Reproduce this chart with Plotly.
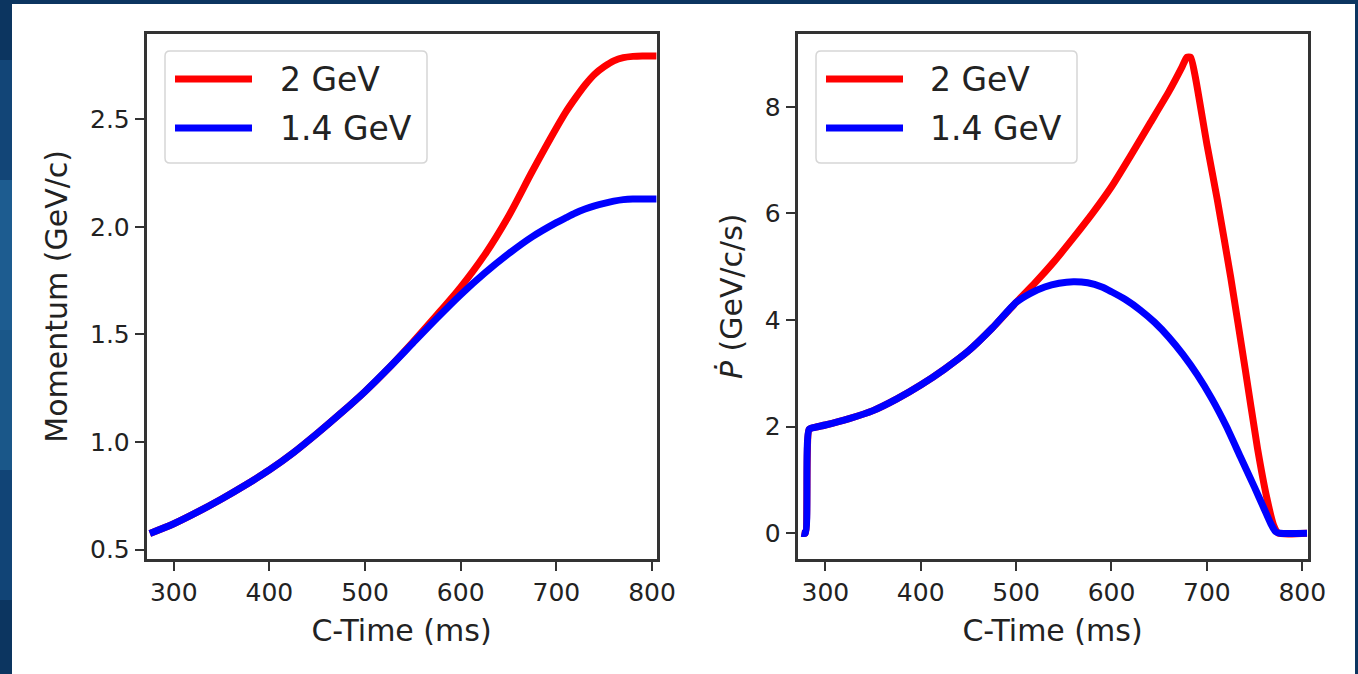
import plotly.graph_objects as go

# ---- data -------------------------------------------------------------
# Momentum vs cycle time
t_mom = [275, 300, 325, 350, 375, 400, 425, 450, 475, 500, 525, 550, 575,
         600, 625, 650, 675, 700, 710, 720, 730, 740, 750, 760, 770, 780, 790, 805]
mom_2gev = [0.575, 0.62, 0.675, 0.735, 0.80, 0.87, 0.95, 1.04, 1.135, 1.235,
            1.345, 1.465, 1.59, 1.72, 1.87, 2.05, 2.26, 2.46, 2.535, 2.60,
            2.66, 2.71, 2.745, 2.772, 2.787, 2.793, 2.795, 2.795]
mom_14gev = [0.575, 0.62, 0.675, 0.735, 0.80, 0.87, 0.95, 1.04, 1.135, 1.235,
             1.345, 1.46, 1.575, 1.685, 1.785, 1.875, 1.955, 2.02, 2.043,
             2.065, 2.083, 2.098, 2.11, 2.12, 2.127, 2.13, 2.13, 2.13]

# Rate of change of momentum vs cycle time
t_pdot_14 = [275, 279, 283, 290, 300, 325, 350, 375, 400, 425, 450, 475, 500,
             515, 530, 545, 560, 575, 590, 600, 615, 630, 645, 660, 675, 690,
             705, 720, 735, 750, 760, 767, 772, 777, 805]
pdot_14gev = [0.0, 0.0, 1.95, 1.99, 2.03, 2.15, 2.30, 2.52, 2.78, 3.08, 3.42,
              3.85, 4.33, 4.50, 4.62, 4.69, 4.72, 4.70, 4.62, 4.53, 4.38,
              4.19, 3.96, 3.68, 3.35, 2.97, 2.53, 2.02, 1.44, 0.86, 0.46,
              0.18, 0.03, 0.0, 0.0]

t_pdot_2 = [275, 279, 283, 290, 300, 325, 350, 375, 400, 425, 450, 475, 500,
            520, 540, 560, 580, 600, 620, 640, 660, 674, 679, 683, 688, 700,
            711, 725, 740, 753, 763, 770, 775, 805]
pdot_2gev = [0.0, 0.0, 1.95, 1.99, 2.03, 2.15, 2.30, 2.52, 2.78, 3.08, 3.42,
             3.85, 4.33, 4.70, 5.10, 5.54, 6.00, 6.50, 7.08, 7.68, 8.28, 8.75,
             8.93, 8.93, 8.55, 7.30, 6.25, 4.80, 3.10, 1.60, 0.65, 0.15, 0.0,
             0.0]

x_ticks = [300, 400, 500, 600, 700, 800]
mom_ticks = [0.5, 1.0, 1.5, 2.0, 2.5]
pdot_ticks = [0, 2, 4, 6, 8]
series_names = ["2 GeV", "1.4 GeV"]
series_colors = ["#ff0000", "#0000ff"]

# ---- figure geometry (pixels) ----------------------------------------
W, H = 1358, 674
FONT = "DejaVu Sans"
TXT = "#222222"
FRAME = "#333333"


def px(x):
    return x / W


def py(y):
    return 1 - y / H


fig = go.Figure()

# momentum panel
fig.add_trace(go.Scatter(x=t_mom, y=mom_2gev, mode="lines", name=series_names[0],
                         line=dict(color=series_colors[0], width=7, shape="spline", smoothing=0.8),
                         xaxis="x", yaxis="y", showlegend=False))
fig.add_trace(go.Scatter(x=t_mom, y=mom_14gev, mode="lines", name=series_names[1],
                         line=dict(color=series_colors[1], width=7, shape="spline", smoothing=0.8),
                         xaxis="x", yaxis="y", showlegend=False))
# momentum-rate panel
fig.add_trace(go.Scatter(x=t_pdot_2, y=pdot_2gev, mode="lines", name=series_names[0],
                         line=dict(color=series_colors[0], width=7, shape="spline", smoothing=0.5),
                         xaxis="x2", yaxis="y2", showlegend=False))
fig.add_trace(go.Scatter(x=t_pdot_14, y=pdot_14gev, mode="lines", name=series_names[1],
                         line=dict(color=series_colors[1], width=7, shape="spline", smoothing=0.6),
                         xaxis="x2", yaxis="y2", showlegend=False))

axis_common = dict(
    showline=True, mirror=True, linecolor=FRAME, linewidth=2.5,
    ticks="outside", ticklen=9, tickwidth=2, tickcolor=FRAME,
    showgrid=False, zeroline=False,
    tickfont=dict(family=FONT, size=25, color=TXT),
    automargin=False,
)

y_dom = [py(558.8), py(33.8)]

fig.update_layout(
    width=W, height=H,
    margin=dict(l=0, r=0, t=0, b=0),
    paper_bgcolor="#0c3560",
    plot_bgcolor="#ffffff",
    font=dict(family=FONT, color=TXT),
    xaxis=dict(domain=[px(146.5), px(656.5)], range=[271.5, 804.7],
               tickvals=x_ticks, anchor="y",
               title=dict(text="C-Time (ms)", font=dict(family=FONT, size=30, color=TXT), standoff=15),
               **axis_common),
    yaxis=dict(domain=y_dom, range=[0.457, 2.898], tickvals=mom_ticks,
               tickformat=".1f", anchor="x",
               title=dict(text="Momentum (GeV/c)", font=dict(family=FONT, size=30, color=TXT), standoff=14),
               **axis_common),
    xaxis2=dict(domain=[px(797.5), px(1307.5)], range=[270.8, 805.5],
                tickvals=x_ticks, anchor="y2",
                title=dict(text="C-Time (ms)", font=dict(family=FONT, size=30, color=TXT), standoff=15),
                **axis_common),
    yaxis2=dict(domain=y_dom, range=[-0.48, 9.37], tickvals=pdot_ticks,
                anchor="x2",
                title=dict(text="<i>Ṗ</i> (GeV/c/s)", font=dict(family=FONT, size=30, color=TXT), standoff=14),
                **axis_common),
)

shapes = []
# white slide panel over the blue background
shapes.append(dict(type="rect", xref="paper", yref="paper",
                   x0=px(12), x1=px(1355), y0=0, y1=py(4),
                   fillcolor="#ffffff", line=dict(width=0), layer="below"))
# lighter band on the left edge of the slide background
for y0, y1, col in [(60, 180, "#124577"), (180, 330, "#1d5c90"),
                    (330, 470, "#1a5789"), (470, 600, "#114476")]:
    shapes.append(dict(type="rect", xref="paper", yref="paper",
                       x0=0, x1=px(12), y0=py(y1), y1=py(y0),
                       fillcolor=col, line=dict(width=0), layer="below"))


def rounded_box(x0, y0, x1, y1, r=5):
    """Rounded rectangle path given pixel corners (top-left, bottom-right)."""
    X = lambda v: f"{px(v):.5f}"
    Y = lambda v: f"{py(v):.5f}"
    return (f"M {X(x0 + r)},{Y(y0)} L {X(x1 - r)},{Y(y0)} "
            f"Q {X(x1)},{Y(y0)} {X(x1)},{Y(y0 + r)} "
            f"L {X(x1)},{Y(y1 - r)} Q {X(x1)},{Y(y1)} {X(x1 - r)},{Y(y1)} "
            f"L {X(x0 + r)},{Y(y1)} Q {X(x0)},{Y(y1)} {X(x0)},{Y(y1 - r)} "
            f"L {X(x0)},{Y(y0 + r)} Q {X(x0)},{Y(y0)} {X(x0 + r)},{Y(y0)} Z")


annotations = []
# legends drawn inside each panel
for bx0, bx1, lx0, lx1, tx in [(165, 427, 175, 252, 278), (816, 1077, 826, 903, 928)]:
    shapes.append(dict(type="path", xref="paper", yref="paper",
                       path=rounded_box(bx0, 51, bx1, 163),
                       fillcolor="rgba(255,255,255,0.85)",
                       line=dict(color="#d6d6d6", width=1.5)))
    for name, col, yy in zip(series_names, series_colors, [79, 128]):
        shapes.append(dict(type="line", xref="paper", yref="paper",
                           x0=px(lx0), x1=px(lx1), y0=py(yy), y1=py(yy),
                           line=dict(color=col, width=7)))
        annotations.append(dict(xref="paper", yref="paper", x=px(tx), y=py(yy),
                                xanchor="left", yanchor="middle", showarrow=False,
                                text=name, font=dict(family=FONT, size=33, color=TXT)))

fig.update_layout(shapes=shapes, annotations=annotations)

fig.write_html("out.html")
